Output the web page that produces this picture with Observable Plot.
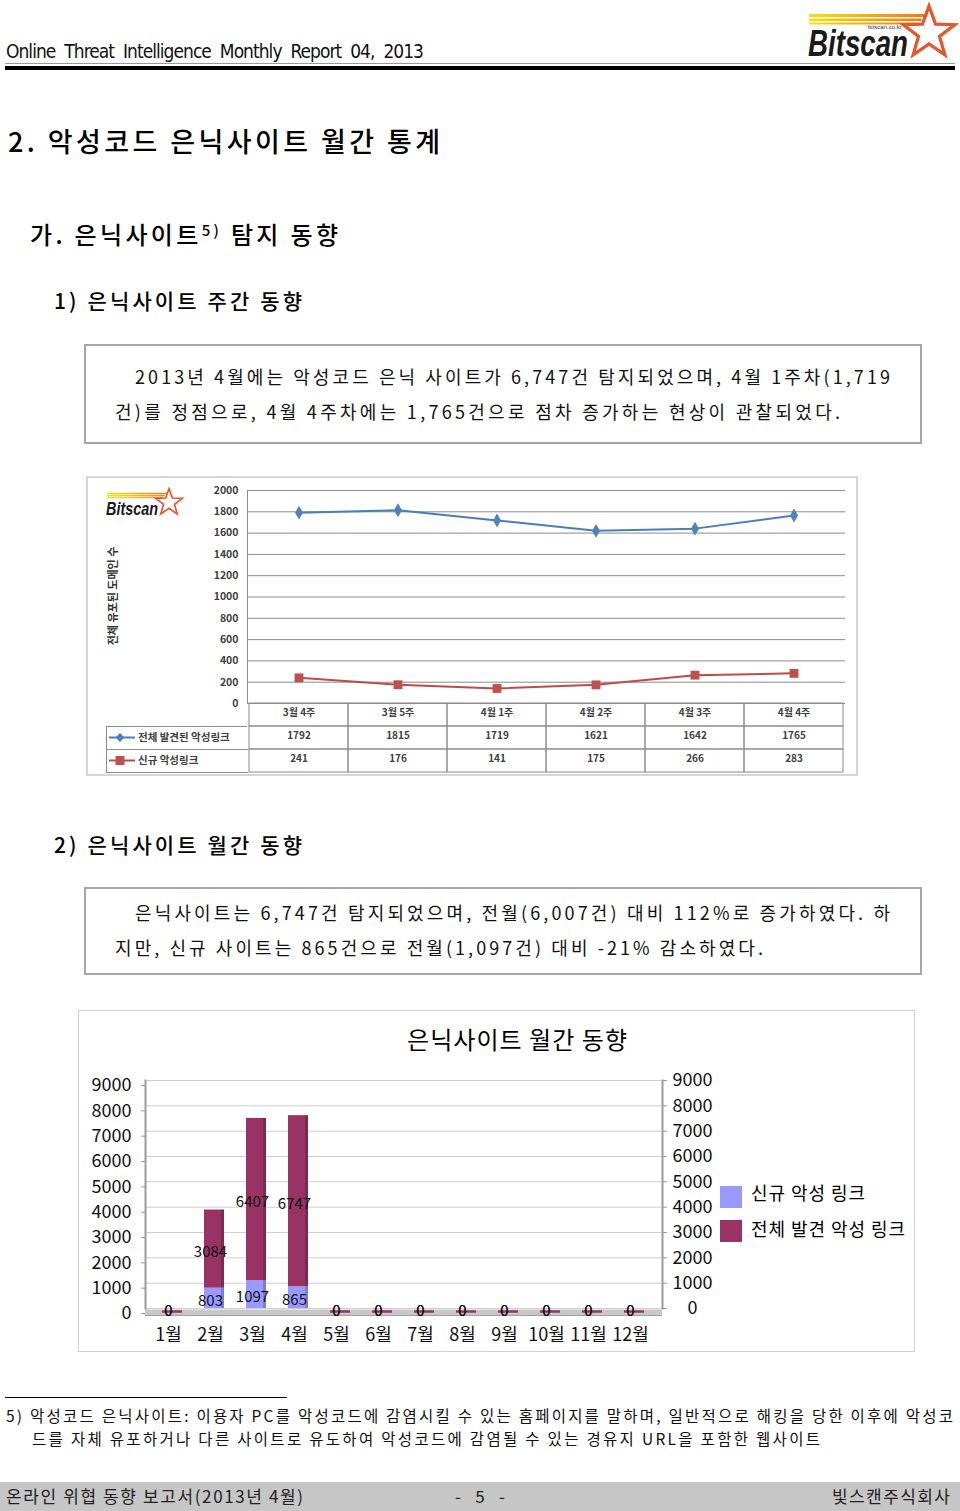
<!DOCTYPE html>
<html><head><meta charset="utf-8">
<script src="https://cdn.jsdelivr.net/npm/d3@7"></script>
<script src="https://cdn.jsdelivr.net/npm/@observablehq/plot@0.6"></script>
<style>
html,body{margin:0;padding:0;background:#fff;}
body{width:960px;height:1511px;position:relative;overflow:hidden;font-family:"Noto Sans CJK KR","Noto Sans",sans-serif;color:#000;}
.a{position:absolute;white-space:nowrap;}
.box{position:absolute;box-sizing:border-box;}
</style></head><body>
<script>
// ---------- data ----------
const weeks = ["3월 4주","3월 5주","4월 1주","4월 2주","4월 3주","4월 4주"];
const weeklyTotal = [1792,1815,1719,1621,1642,1765];
const weeklyNew = [241,176,141,175,266,283];
const weeklyNames = ["전체 발견된 악성링크","신규 악성링크"];
const yTicksWeekly = [0,200,400,600,800,1000,1200,1400,1600,1800,2000];

const months = ["1월","2월","3월","4월","5월","6월","7월","8월","9월","10월","11월","12월"];
const monthlyNew = [0,803,1097,865,0,0,0,0,0,0,0,0];
const monthlyTotal = [0,3084,6407,6747,0,0,0,0,0,0,0,0];
const monthlyNames = ["신규 악성 링크","전체 발견 악성 링크"];
const yTicksMonthly = [0,1000,2000,3000,4000,5000,6000,7000,8000,9000];

const BLUE = "#4a7ebb", RED = "#be4b48", LILAC = "#9999ff", MAROON = "#993366";
const plain = d => String(d);

// ---------- helpers ----------
function box(x,y,w,h,css){const d=document.createElement("div");d.className="box";d.style.cssText=`left:${x}px;top:${y}px;width:${w}px;height:${h}px;`+(css||"");document.body.appendChild(d);return d;}
function T(html,x,cy,size,w,o={}){
  const el=document.createElement("div");el.className="a";el.innerHTML=html;
  el.style.fontSize=size+"px";el.style.lineHeight=size+"px";
  if(o.family)el.style.fontFamily=o.family;
  if(o.weight)el.style.fontWeight=o.weight;
  if(o.color)el.style.color=o.color;
  document.body.appendChild(el);
  const n=Array.from(el.textContent).length;
  let ww=el.getBoundingClientRect().width;
  if(w){el.style.letterSpacing=((w-ww)/(n-1))+"px";ww=w;}
  el.style.left=(o.center?x-ww/2:x)+"px";
  el.style.top=(cy-(o.cr??0.55)*size)+"px";
  return el;
}
function starPts(cx,cy,R,r){const p=[];for(let k=0;k<10;k++){const a=-Math.PI/2+k*Math.PI/5;const rr=k%2?r:R;p.push((cx+rr*Math.cos(a)).toFixed(1)+","+(cy+rr*Math.sin(a)).toFixed(1));}return p.join(" ");}
function logo(x,y,s,id,small){
  const svg=`<svg style="position:absolute;left:${x}px;top:${y}px" width="${155*s}" height="${62*s}" viewBox="0 0 155 62">
  <defs><linearGradient id="${id}" x1="0" x2="1"><stop offset="0" stop-color="#f4e20a"/><stop offset="1" stop-color="#f07a10"/></linearGradient></defs>
  <rect x="5" y="13" width="116" height="3" fill="url(#${id})"/>
  <rect x="5" y="17.5" width="112" height="2.5" fill="url(#${id})"/>
  <rect x="5" y="21.5" width="108" height="2" fill="url(#${id})"/>
  <polygon points="${starPts(125,32,27,11)}" fill="none" stroke="#e8542c" stroke-width="3.2" stroke-linejoin="miter"/>
  <text x="4" y="55" font-family="Liberation Sans Narrow, Liberation Sans, sans-serif" font-weight="bold" font-style="italic" font-size="36" fill="#1a1a1a" textLength="100" lengthAdjust="spacingAndGlyphs">Bitscan</text>
  ${small?`<text x="64" y="28" font-family="Liberation Sans, sans-serif" font-size="6" fill="#333">bitscan.co.kr</text>`:""}
  </svg>`;
  document.body.insertAdjacentHTML("beforeend",svg);
}

// ---------- page header ----------
T("Online&nbsp; Threat&nbsp; Intelligence&nbsp; Monthly&nbsp; Report&nbsp; 04,&nbsp; 2013",6,51,19,418,{family:'"Liberation Sans Narrow","DejaVu Sans Condensed",sans-serif',cr:0.49,color:"#111"});
logo(804,1,1,"lg1",true);
box(5,63,950,1,"background:#999;");
box(5,66,950,4,"background:#000;");

T("2. 악성코드 은닉사이트 월간 통계",8,142,27,432,{weight:500});
T('가. 은닉사이트<span style="font-size:15px;vertical-align:8px">5)</span> 탐지 동향',30,231,24,308,{weight:500});
T("1) 은닉사이트 주간 동향",54,302,21,248,{weight:500});

box(84,344,838,100,"border:2px solid #a6a6a6;");
T("2013년 4월에는 악성코드 은닉 사이트가 6,747건 탐지되었으며, 4월 1주차(1,719",135,377,18,755,{color:"#111"});
T("건)를 정점으로, 4월 4주차에는 1,765건으로 점차 증가하는 현상이 관찰되었다.",115,412,18,725,{color:"#111"});

// ---------- chart 1 (weekly) ----------
box(86,476,772,300,"border:2px solid #d6d6d6;");
logo(104,486,0.52,"lg2",false);
const yt=T("전체 유포된 도메인 수",0,0,11,null,{weight:"bold",color:"#333"});
yt.style.left="112px";yt.style.top="596px";yt.style.lineHeight="12px";
yt.style.transform="translate(-50%,-50%) rotate(-90deg)";

const wk = weeks.map((w,i)=>({week:w,total:weeklyTotal[i],fresh:weeklyNew[i]}));
const GRID1="#8c8c8c";
const tstyle={fontSize:10,fontWeight:"bold",fill:"#404040"};
const c1 = Plot.plot({
  width:772,height:300,
  marginLeft:161,marginRight:13,marginTop:14,marginBottom:73,
  style:{background:"transparent",fontFamily:'"Noto Sans CJK KR",sans-serif',overflow:"visible"},
  x:{type:"band",domain:weeks,padding:0,axis:null},
  y:{domain:[0,2000],axis:null},
  marks:[
    Plot.gridY(yTicksWeekly,{stroke:GRID1,strokeOpacity:1}),
    Plot.axisY(yTicksWeekly,{tickSize:0,tickPadding:9,fontSize:10.5,fontWeight:"bold",fill:"#404040",tickFormat:plain,label:null}),
    Plot.frame({anchor:"left",stroke:GRID1}),
    ...[0,23,46].map(dy=>Plot.barY(weeks,{x:d=>d,y1:0,y2:0,insetBottom:-23,dy,fill:"none",stroke:GRID1})),
    Plot.text(wk,{x:"week",text:"week",frameAnchor:"bottom",dy:12,...tstyle}),
    Plot.text(wk,{x:"week",text:d=>String(d.total),frameAnchor:"bottom",dy:35,...tstyle}),
    Plot.text(wk,{x:"week",text:d=>String(d.fresh),frameAnchor:"bottom",dy:58,...tstyle}),
    Plot.line(wk,{x:"week",y:"total",stroke:BLUE,strokeWidth:2}),
    Plot.dot(wk,{x:"week",y:"total",symbol:"diamond",fill:"#4f81bd",r:4.2}),
    Plot.line(wk,{x:"week",y:"fresh",stroke:RED,strokeWidth:2}),
    Plot.dot(wk,{x:"week",y:"fresh",symbol:"square",fill:"#c0504d",r:5})
  ]
});
const w1=document.createElement("div");w1.className="a";w1.style.left="86px";w1.style.top="476px";w1.appendChild(c1);document.body.appendChild(w1);

// legend column of the data table
box(106,726,141,23,`border-top:1px solid ${GRID1};border-left:1px solid ${GRID1};`);
box(106,749,142,24,`border-top:1px solid ${GRID1};border-left:1px solid ${GRID1};border-bottom:1px solid ${GRID1};`);
document.body.insertAdjacentHTML("beforeend",
 `<svg style="position:absolute;left:106px;top:726px" width="32" height="46">
   <line x1="3" x2="29" y1="11.5" y2="11.5" stroke="${BLUE}" stroke-width="2"/>
   <path d="M14,7 L18.5,11.5 L14,16 L9.5,11.5Z" fill="#4f81bd"/>
   <line x1="3" x2="29" y1="34.5" y2="34.5" stroke="${RED}" stroke-width="2"/>
   <rect x="9.5" y="30" width="9" height="9" fill="#c0504d"/>
 </svg>`);
T(weeklyNames[0],138,738,10.5,null,{weight:"bold",color:"#404040"});
T(weeklyNames[1],138,761,10.5,null,{weight:"bold",color:"#404040"});

// ---------- section 2 ----------
T("2) 은닉사이트 월간 동향",54,846,21,248,{weight:500});
box(84,887,838,88,"border:2px solid #a6a6a6;");
T("은닉사이트는 6,747건 탐지되었으며, 전월(6,007건) 대비 112%로 증가하였다. 하",135,913,18,755,{color:"#111"});
T("지만, 신규 사이트는 865건으로 전월(1,097건) 대비 -21% 감소하였다.",115,948,18,648,{color:"#111"});

// ---------- chart 2 (monthly) ----------
box(78,1010,837,342,"border:1px solid #d0d0d0;");
T("은닉사이트 월간 동향",517,1040,24,220,{center:true});

const mo = months.flatMap((m,i)=>[
  {month:m,series:monthlyNames[0],value:monthlyNew[i]},
  {month:m,series:monthlyNames[1],value:monthlyTotal[i]}
]);
const c2 = Plot.plot({
  width:837,height:342,
  marginLeft:67,marginRight:253,marginTop:70,marginBottom:44,
  style:{background:"transparent",fontFamily:'"Noto Sans CJK KR",sans-serif',overflow:"visible"},
  x:{type:"band",domain:months,range:[67,574],paddingInner:0.53,paddingOuter:0.265,label:null},
  y:{domain:[0,9000],label:null},
  color:{domain:monthlyNames,range:[LILAC,MAROON]},
  marks:[
    Plot.gridY(yTicksMonthly,{stroke:"#cfcfcf",strokeOpacity:1}),
    Plot.ruleY([0],{stroke:"#c8c8c8",strokeWidth:6,dy:4}),
    Plot.ruleY([0],{stroke:"#a0a0a0",strokeWidth:1,dy:7}),
    Plot.frame({anchor:"left",stroke:"#9a9a9a",strokeWidth:2}),
    Plot.frame({anchor:"right",stroke:"#9a9a9a",strokeWidth:2}),
    Plot.axisY(yTicksMonthly,{anchor:"left",tickSize:4,tickPadding:10,fontSize:18,dy:5,stroke:"#9a9a9a",fill:"#111",tickFormat:plain,label:null}),
    Plot.axisY(yTicksMonthly,{anchor:"right",tickSize:4,tickPadding:26,textAnchor:"middle",fontSize:18,stroke:"#9a9a9a",fill:"#111",tickFormat:plain,label:null}),
    Plot.axisX(months,{tickSize:0,tickPadding:20,fontSize:18,fill:"#111",label:null}),
    Plot.barY(mo,{x:"month",y:"value",fill:"series",dx:4}),
    Plot.barY(mo,{x:"month",y:"value",fill:"#000",fillOpacity:0.18,insetLeft:17,dx:4}),
    Plot.tickY(mo.filter(d=>d.value===0&&d.series===monthlyNames[1]),{x:"month",y:"value",stroke:MAROON,strokeWidth:2.5,dx:4,dy:3}),
    Plot.text(mo,Plot.stackY({x:"month",y:"value",text:d=>String(d.value),fontSize:15,fill:"#111",dy:3}))
  ]
});
const w2=document.createElement("div");w2.className="a";w2.style.left="78px";w2.style.top="1010px";w2.appendChild(c2);document.body.appendChild(w2);

// legend
box(720,1186,22,22,`background:${LILAC};`);
box(720,1220,22,22,`background:${MAROON};`);
T(monthlyNames[0],751,1193,18,114);
T(monthlyNames[1],751,1229,18,154);

// ---------- footnote & footer ----------
box(5,1397,282,1,"background:#000;");
T("5) 악성코드 은닉사이트: 이용자 PC를 악성코드에 감염시킬 수 있는 홈페이지를 말하며, 일반적으로 해킹을 당한 이후에 악성코",6,1417,15.5,947,{color:"#111"});
T("드를 자체 유포하거나 다른 사이트로 유도하여 악성코드에 감염될 수 있는 경유지 URL을 포함한 웹사이트",32,1440,15.5,788,{color:"#111"});
box(0,1482,960,29,"background:#c6c6c6;");
T("온라인 위협 동향 보고서(2013년 4월)",6,1496,17,297,{color:"#222"});
T("-&nbsp; 5&nbsp; -",455,1496,17,50,{color:"#222"});
T("빛스캔주식회사",832,1496,17,118,{color:"#222"});
</script>
</body></html>
